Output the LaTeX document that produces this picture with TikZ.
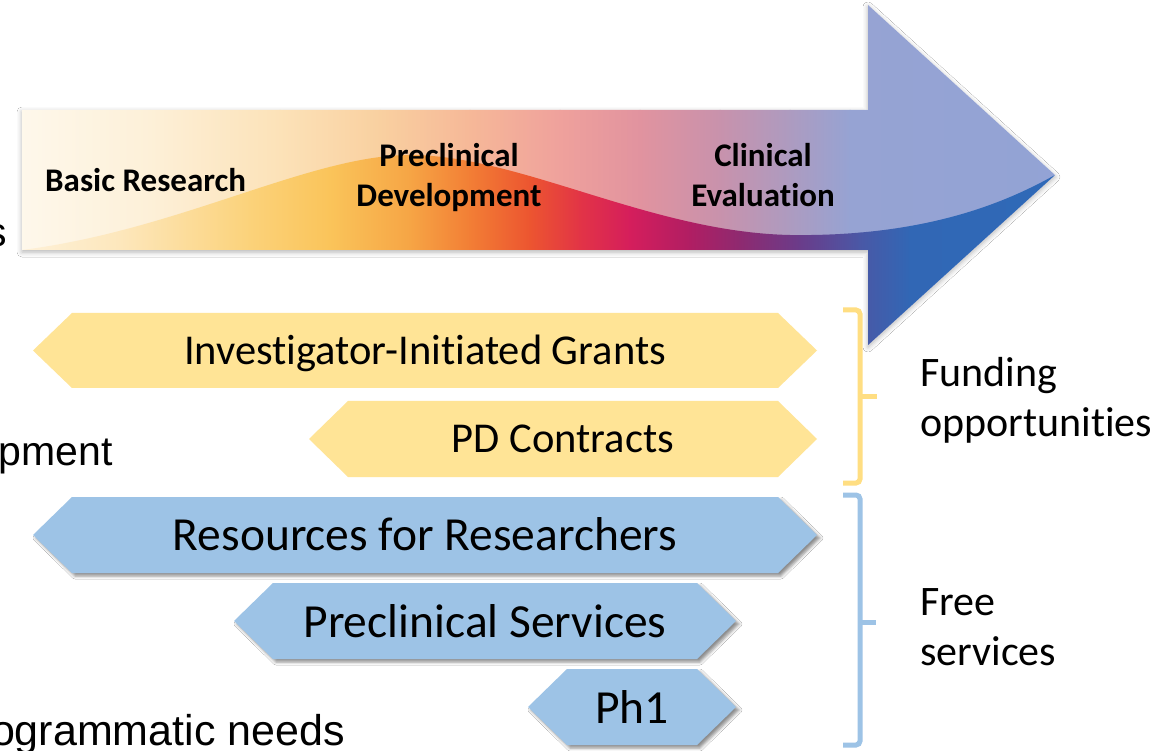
\documentclass[tikz,border=0pt]{standalone}
\usepackage{fontspec}
\setmainfont{Carlito}[Ligatures=NoCommon]
\newfontfamily\arialf{Liberation Sans}
\usetikzlibrary{shadows.blur}
\definecolor{u0}{HTML}{FEF9EE}
\definecolor{u1}{HTML}{FDF0D8}
\definecolor{u2}{HTML}{FCE2B8}
\definecolor{u3}{HTML}{F9D0A0}
\definecolor{u4}{HTML}{F6B898}
\definecolor{u5}{HTML}{EFA19C}
\definecolor{u6}{HTML}{E1939F}
\definecolor{u7}{HTML}{C892AC}
\definecolor{u8}{HTML}{AD9BC0}
\definecolor{u9}{HTML}{96A3D3}
\definecolor{u10}{HTML}{92A3D5}
\definecolor{l0}{HTML}{FEF3DE}
\definecolor{l1}{HTML}{FDE7BC}
\definecolor{l2}{HTML}{FBD27A}
\definecolor{l3}{HTML}{FAC45A}
\definecolor{l4}{HTML}{F6A545}
\definecolor{l5}{HTML}{F27E35}
\definecolor{l6}{HTML}{EC5530}
\definecolor{l7}{HTML}{E23446}
\definecolor{l8}{HTML}{D51E5C}
\definecolor{l9}{HTML}{B01E63}
\definecolor{l10}{HTML}{8E2A70}
\definecolor{l11}{HTML}{6A3C8A}
\definecolor{l12}{HTML}{4A58A6}
\definecolor{l13}{HTML}{3167B5}
\definecolor{l14}{HTML}{2E6AB8}
\definecolor{ylw}{HTML}{FFE496}
\definecolor{ylwbr}{HTML}{FFDE82}
\definecolor{blu}{HTML}{9DC3E6}
\tikzset{
  ylwar/.style={fill=ylw},
  bluar/.style={fill=blu, blur shadow={shadow xshift=3pt, shadow yshift=-3pt, shadow blur radius=3pt, shadow opacity=45}},
  stagelbl/.style={font=\bfseries\fontsize{33}{40}\selectfont, align=center, anchor=base, inner sep=0pt},
  barlbl/.style={font=\fontsize{42.5}{48}\selectfont, anchor=base, inner sep=0pt},
  bigbarlbl/.style={font=\fontsize{47.5}{52}\selectfont, anchor=base, inner sep=0pt},
  sidelbl/.style={font=\fontsize{42}{50}\selectfont, anchor=base west, inner sep=0pt},
  cutlbl/.style={font=\arialf\fontsize{41}{48}\selectfont, anchor=base east, inner sep=0pt},
  bracket/.style={line width=5pt, rounded corners=4pt}
}
\newcommand{\hexar}[5]{%
  \fill[#1] (#2,{(#4+#5)/2}) -- ({#2+39},#4) -- ({#3-39},#4) -- (#3,{(#4+#5)/2}) -- ({#3-39},#5) -- ({#2+39},#5) -- cycle;}
\begin{document}
\begin{tikzpicture}[x=1pt,y=-1pt]
\useasboundingbox[fill=white] (0,0) rectangle (1163,751);

% main arrow
\path[fill=white, blur shadow={shadow xshift=0pt, shadow yshift=-2pt, shadow blur radius=5pt, shadow opacity=30}]
  (22,110) -- (868,110) -- (868,5) -- (1055,175) -- (868,345) -- (868,250) -- (22,250) -- cycle;
\begin{scope}
  \clip (22,110) -- (868,110) -- (868,5) -- (1055,175) -- (868,345) -- (868,250) -- (22,250) -- cycle;
  \foreach \xa/\ca/\xb/\cb in {0/u0/150/u1, 150/u1/280/u2, 280/u2/380/u3, 380/u3/470/u4, 470/u4/560/u5, 560/u5/640/u6, 640/u6/720/u7, 720/u7/790/u8, 790/u8/850/u9, 850/u9/1100/u10}
    {\shade[left color=\ca, right color=\cb] (\xa-0.5,0) rectangle (\xb+0.5,351);}
  \begin{scope}
    \clip (22,250) .. controls (180,230) and (310,155) .. (410,155)
      .. controls (520,155) and (650,232) .. (790,235)
      .. controls (930,237) and (1010,200) .. (1055,175)
      -- (1100,175) -- (1100,351) -- (0,351) -- (0,250) -- cycle;
    \foreach \xa/\ca/\xb/\cb in {0/l0/120/l1, 120/l1/250/l2, 250/l2/330/l3, 330/l3/410/l4, 410/l4/470/l5, 470/l5/530/l6, 530/l6/580/l7, 580/l7/630/l8, 630/l8/690/l9, 690/l9/740/l10, 740/l10/800/l11, 800/l11/860/l12, 860/l12/910/l13, 910/l13/1100/l14}
      {\shade[left color=\ca, right color=\cb] (\xa-0.5,0) rectangle (\xb+0.5,351);}
  \end{scope}
\end{scope}

\node[stagelbl, anchor=base west] (basic) at (45,192) {Basic Research};
\node[stagelbl] (precl) at (449,167) {Preclinical};
\node[stagelbl] (dev) at (449,207) {Development};
\node[stagelbl] (clin) at (763,167) {Clinical};
\node[stagelbl] (eval) at (763,207) {Evaluation};

% bars
\hexar{ylwar}{33}{817}{313}{388}
\hexar{ylwar}{309}{817}{401}{477}
\hexar{bluar}{33}{817}{497}{573}
\hexar{bluar}{234}{736}{583}{659}
\hexar{bluar}{528}{736}{669}{745}

\node[barlbl] (iig) at (425,365) {Investigator-Initiated Grants};
\node[barlbl] (pdc) at (563,453) {PD Contracts};
\node[bigbarlbl] (rfr) at (425,550) {Resources for Researchers};
\node[bigbarlbl] (pcs) at (485,637) {Preclinical Services};
\node[bigbarlbl] (ph1) at (632,723) {Ph1};

% brackets
\draw[bracket, ylwbr] (843,310) -- (860,310) -- (860,483) -- (843,483);
\draw[line width=5pt, ylwbr] (858,397) -- (877,397);
\draw[bracket, blu] (843,495) -- (860,495) -- (860,745) -- (843,745);
\draw[line width=5pt, blu] (858,622) -- (876,622);

\node[sidelbl] (fund1) at (920,387) {Funding};
\node[sidelbl] (fund2) at (920,437) {opportunities};
\node[sidelbl] (free1) at (920,615) {Free};
\node[sidelbl] (free2) at (920,665) {services};

% cut-off texts at left edge
\node[cutlbl] (cuts) at (7,247) {s};
\node[cutlbl] (cutpm) at (113,465) {pment};
\node[cutlbl, font=\arialf\fontsize{43}{48}\selectfont] (cutpn) at (345,745) {ogrammatic needs};
\end{tikzpicture}
\end{document}
